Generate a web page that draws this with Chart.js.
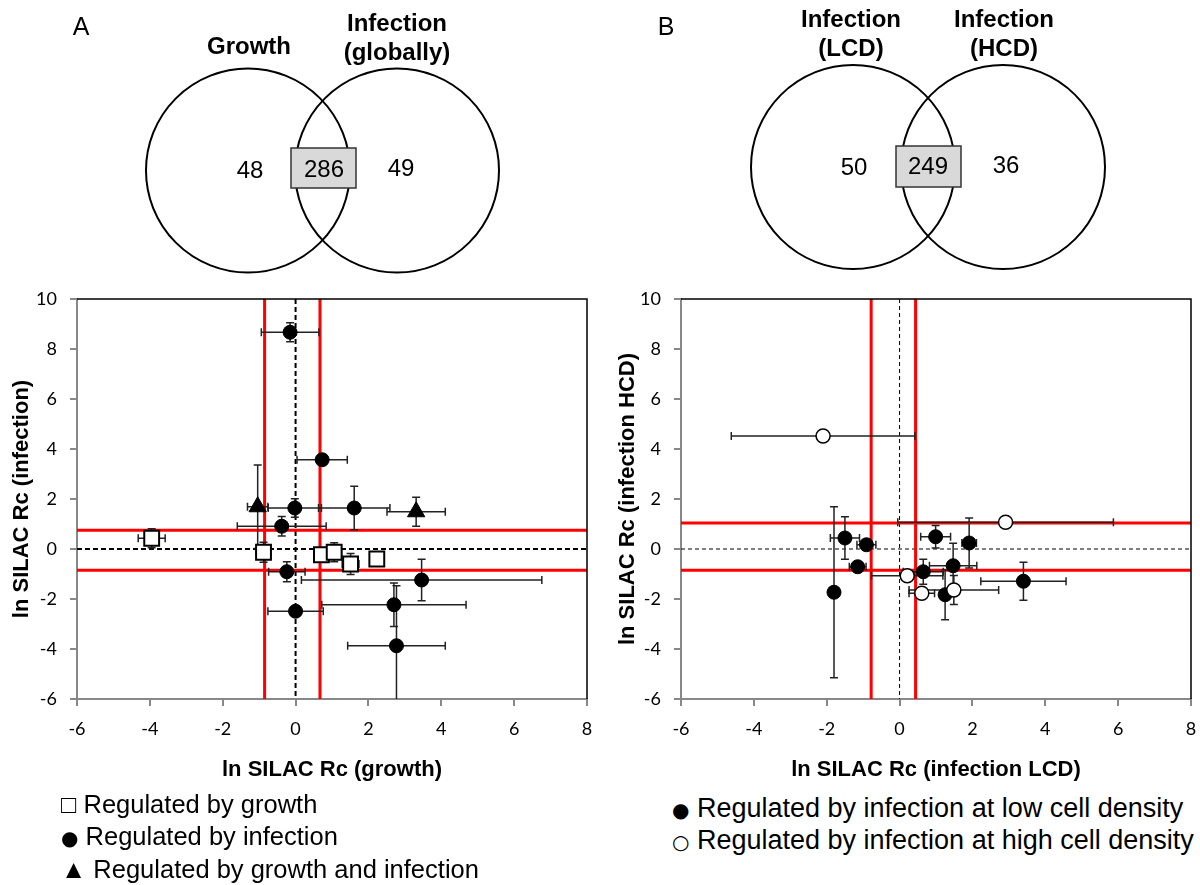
<!DOCTYPE html>
<html>
<head>
<meta charset="utf-8">
<script src="https://cdn.jsdelivr.net/npm/chart.js@4.4.1/dist/chart.umd.min.js"></script>
<style>
  body { margin: 0; background: #fff; }
  #page { position: relative; width: 1200px; height: 885px; overflow: hidden;
          font-family: "Liberation Sans", Arial, sans-serif; color: #000; }
  .abs { position: absolute; white-space: nowrap; }
  .c { transform: translate(-50%, -50%); text-align: center; }
  .panel { font-size: 25px; }
  .vlab { font-weight: bold; font-size: 24px; line-height: 29px; }
  .vnum { font-size: 24px; }
  .dot { font-family: "DejaVu Sans", sans-serif; font-size: 20px; }
  canvas { position: absolute; }
</style>
</head>
<body>
<div id="page">
  <canvas id="venn" width="1200" height="280" style="left:0;top:0"></canvas>
  <canvas id="chartA" width="600" height="510" style="left:0;top:280px"></canvas>
  <canvas id="chartB" width="600" height="510" style="left:600px;top:280px"></canvas>

  <div class="abs c panel" style="left:81px;top:26px">A</div>
  <div class="abs c panel" style="left:666px;top:26px">B</div>

  <div class="abs c vlab" id="vlA0" style="left:249px;top:45px"></div>
  <div class="abs c vlab" id="vlA1" style="left:397px;top:37px"></div>
  <div class="abs c vlab" id="vlB0" style="left:851px;top:33px"></div>
  <div class="abs c vlab" id="vlB1" style="left:1004px;top:33px"></div>

  <div class="abs c vnum" id="vnA0" style="left:250px;top:170px"></div>
  <div class="abs c vnum" id="vnA1" style="left:324px;top:169px"></div>
  <div class="abs c vnum" id="vnA2" style="left:401px;top:168px"></div>
  <div class="abs c vnum" id="vnB0" style="left:854px;top:167px"></div>
  <div class="abs c vnum" id="vnB1" style="left:928px;top:166px"></div>
  <div class="abs c vnum" id="vnB2" style="left:1006px;top:165px"></div>

  <div class="abs" id="legA" style="left:61px;top:789px;line-height:31.5px;font-size:25.5px"></div>
  <div class="abs" id="legB" style="left:672px;top:794px;line-height:29.5px;font-size:27px"></div>
</div>

<script>
// venn counts (only A, overlap, only B)
const vennLabelsA = ["Growth", "Infection<br>(globally)"];
const vennCountsA = [48, 286, 49];
const vennLabelsB = ["Infection<br>(LCD)", "Infection<br>(HCD)"];
const vennCountsB = [50, 249, 36];

// panel A: x = ln SILAC Rc (growth), y = ln SILAC Rc (infection)
const growthX    = [-3.95, -0.88, 0.71, 1.06, 1.51, 2.23];
const growthY    = [0.43, -0.13, -0.23, -0.13, -0.60, -0.40];
const growthXErr = [0.37, 0.20, 0.15, 0.20, 0.23, 0];
const growthYErr = [0.38, 0.40, 0.10, 0.38, 0.42, 0];

const infectX    = [-0.15, 0.73, -0.02, 1.61, -0.38, -0.24, 3.46, 2.70, 0.00, 2.77];
const infectY    = [8.67, 3.57, 1.64, 1.64, 0.91, -0.91, -1.24, -2.23, -2.49, -3.87];
const infectXErr = [0.79, 0.69, 0.73, 0.98, 1.22, 0.50, 3.30, 1.98, 0.76, 1.34];
const infectYErr = [0.38, 0.10, 0.37, 0.87, 0.39, 0.40, 0.83, 0.87, 0.10, 2.40];

const bothX    = [-1.04, 3.31];
const bothY    = [1.69, 1.49];
const bothXErr = [0.28, 0.80];
const bothYErr = [1.67, 0.58];

const cutA_x = [-0.85, 0.67];
const cutA_y = [0.75, -0.85];

// panel B: x = infection LCD, y = infection HCD
const lowX    = [-1.50, -0.91, -1.15, -1.80, 0.99, 1.91, 1.47, 0.65, 1.25, 3.40];
const lowY    = [0.44, 0.17, -0.71, -1.73, 0.49, 0.24, -0.67, -0.91, -1.83, -1.29];
const lowXErr = [0.40, 0.26, 0.23, 0.10, 0.41, 0.20, 0.65, 0.55, 0.10, 1.17];
const lowYErr = [0.85, 0.10, 0.10, 3.42, 0.45, 1.00, 0.90, 0.50, 1.00, 0.76];

const highX    = [-2.10, 2.91, 0.21, 0.61, 1.49];
const highY    = [4.52, 1.07, -1.07, -1.77, -1.64];
const highXErr = [2.52, 2.96, 0.98, 0.35, 1.23];
const highYErr = [0.10, 0.10, 0.10, 0.10, 0.58];

const cutB_x = [-0.78, 0.44];
const cutB_y = [1.04, -0.85];

const xTicksMin = -6, xTicksMax = 8;
const yTicksMin = -6, yTicksMax = 10;

const legendA = [["\u25A1", "Regulated by growth"], ["\u25CF", "Regulated by infection"], ["\u25B2", "Regulated by growth and infection"]];
const legendB = [["\u25CF", "Regulated by infection at low cell density"], ["\u25CB", "Regulated by infection at high cell density"]];

// text bits
vennLabelsA.forEach((t, i) => document.getElementById("vlA" + i).innerHTML = t);
vennLabelsB.forEach((t, i) => document.getElementById("vlB" + i).innerHTML = t);
vennCountsA.forEach((n, i) => document.getElementById("vnA" + i).textContent = n);
vennCountsB.forEach((n, i) => document.getElementById("vnB" + i).textContent = n);
function legendHtml(rows) {
  // round markers come out too small in Liberation Sans, use DejaVu for those
  return rows.map((r) => {
    const sym = (r[0] == "\u25CF" || r[0] == "\u25CB") ? '<span class="dot">' + r[0] + '</span>' : r[0];
    return sym + ' ' + r[1];
  }).join("<br>");
}
document.getElementById("legA").innerHTML = legendHtml(legendA);
document.getElementById("legB").innerHTML = legendHtml(legendB);

// venn shapes
function drawVenn(ctx, c1, c2, r, box) {
  ctx.lineWidth = 2;
  ctx.strokeStyle = "#000";
  [c1, c2].forEach((c) => {
    ctx.beginPath();
    ctx.arc(c[0], c[1], r, 0, Math.PI * 2);
    ctx.stroke();
  });
  ctx.fillStyle = "#d9d9d9";
  ctx.fillRect(box[0], box[1], box[2], box[3]);
  ctx.lineWidth = 1.5;
  ctx.strokeStyle = "#333";
  ctx.strokeRect(box[0], box[1], box[2], box[3]);
}
const vctx = document.getElementById("venn").getContext("2d");
drawVenn(vctx, [248, 170.5], [397, 170.5], 102, [291, 148, 65, 40]);
drawVenn(vctx, [853, 167], [1003, 167], 102, [896, 146, 65, 41]);

function pts(xs, ys) {
  return xs.map((x, i) => ({ x: x, y: ys[i] }));
}

// zero lines, cut-off lines and error bars under the points, frame on top
const extras = {
  id: "extras",
  beforeDatasetsDraw(chart, args, opts) {
    const { ctx, chartArea: a, scales: { x, y } } = chart;
    ctx.save();
    ctx.beginPath();
    ctx.rect(a.left, a.top, a.right - a.left, a.bottom - a.top);
    ctx.clip();

    ctx.strokeStyle = "#000";
    ctx.lineWidth = opts.dashWidth;
    ctx.setLineDash(opts.dash);
    ctx.beginPath();
    ctx.moveTo(x.getPixelForValue(0), a.top);
    ctx.lineTo(x.getPixelForValue(0), a.bottom);
    ctx.moveTo(a.left, y.getPixelForValue(0));
    ctx.lineTo(a.right, y.getPixelForValue(0));
    ctx.stroke();
    ctx.setLineDash([]);

    ctx.strokeStyle = "#ff0000";
    ctx.lineWidth = 3;
    ctx.beginPath();
    opts.cutX.forEach((v) => {
      ctx.moveTo(x.getPixelForValue(v), a.top);
      ctx.lineTo(x.getPixelForValue(v), a.bottom);
    });
    opts.cutY.forEach((v) => {
      ctx.moveTo(a.left, y.getPixelForValue(v));
      ctx.lineTo(a.right, y.getPixelForValue(v));
    });
    ctx.stroke();

    // error bars
    ctx.strokeStyle = "#222";
    ctx.lineWidth = 1.5;
    const cap = 4;
    chart.data.datasets.forEach((ds) => {
      ds.data.forEach((p, i) => {
        const px = x.getPixelForValue(p.x), py = y.getPixelForValue(p.y);
        const ex = ds.errX[i], ey = ds.errY[i];
        ctx.beginPath();
        if (ex > 0) {
          const l = x.getPixelForValue(p.x - ex), r = x.getPixelForValue(p.x + ex);
          ctx.moveTo(l, py); ctx.lineTo(r, py);
          ctx.moveTo(l, py - cap); ctx.lineTo(l, py + cap);
          ctx.moveTo(r, py - cap); ctx.lineTo(r, py + cap);
        }
        if (ey > 0) {
          const t = y.getPixelForValue(p.y + ey), b = y.getPixelForValue(p.y - ey);
          ctx.moveTo(px, t); ctx.lineTo(px, b);
          ctx.moveTo(px - cap, t); ctx.lineTo(px + cap, t);
          ctx.moveTo(px - cap, b); ctx.lineTo(px + cap, b);
        }
        ctx.stroke();
      });
    });
    ctx.restore();
  },
  afterDraw(chart) {
    const { ctx, chartArea: a } = chart;
    ctx.save();
    ctx.strokeStyle = "#000";
    ctx.lineWidth = 1.5;
    ctx.beginPath();
    ctx.moveTo(a.left, a.top);
    ctx.lineTo(a.right, a.top);
    ctx.lineTo(a.right, a.bottom);
    ctx.stroke();
    ctx.restore();
  }
};

function axes(xTitle, yTitle, yWidth, yTitlePad) {
  const tickFont = { family: "Lato", size: 18 };
  const titleFont = { family: "Liberation Sans", size: 22, weight: "bold" };
  const grid = { drawOnChartArea: false, tickLength: 7, color: "#888", lineWidth: 2 };
  const border = { color: "#888", width: 2 };
  return {
    x: {
      type: "linear", min: xTicksMin, max: xTicksMax,
      ticks: { stepSize: 2, font: tickFont, color: "#000", padding: 12 },
      grid: grid, border: border,
      title: { display: true, text: xTitle, font: titleFont, color: "#000", padding: { top: 0, bottom: 7 } },
      afterFit(s) {
        s.height = 91;
        // let layout.padding alone decide the plot box
        s.paddingLeft = 0; s.paddingRight = 0;
      }
    },
    y: {
      type: "linear", min: yTicksMin, max: yTicksMax,
      ticks: { stepSize: 2, font: tickFont, color: "#000", padding: 13 },
      grid: grid, border: border,
      title: { display: true, text: yTitle, font: titleFont, color: "#000", padding: { top: yTitlePad, bottom: 0 } },
      afterFit(s) {
        s.width = yWidth;
        s.paddingTop = 0; s.paddingBottom = 0;
      }
    }
  };
}

const baseOpts = {
  responsive: false,
  animation: false,
  events: [],
  plugins: { legend: { display: false }, tooltip: { enabled: false } }
};

new Chart(document.getElementById("chartA"), {
  type: "scatter",
  data: {
    datasets: [
      { label: "Regulated by growth", data: pts(growthX, growthY), errX: growthXErr, errY: growthYErr,
        pointStyle: "rect", pointRadius: 10.5, backgroundColor: "#fff", borderColor: "#000", borderWidth: 2 },
      { label: "Regulated by infection", data: pts(infectX, infectY), errX: infectXErr, errY: infectYErr,
        pointStyle: "circle", pointRadius: 7, backgroundColor: "#000", borderColor: "#000", borderWidth: 1 },
      { label: "Regulated by growth and infection", data: pts(bothX, bothY), errX: bothXErr, errY: bothYErr,
        pointStyle: "triangle", pointRadius: 10, backgroundColor: "#000", borderColor: "#000", borderWidth: 1 }
    ]
  },
  options: Object.assign({}, baseOpts, {
    layout: { padding: { top: 19, right: 13, left: 0, bottom: 0 } },
    scales: axes("ln SILAC Rc (growth)", "ln SILAC Rc (infection)", 77, 9),
    plugins: Object.assign({}, baseOpts.plugins, {
      extras: { cutX: cutA_x, cutY: cutA_y, dash: [5, 3], dashWidth: 2 }
    })
  }),
  plugins: [extras]
});

new Chart(document.getElementById("chartB"), {
  type: "scatter",
  data: {
    datasets: [
      { label: "Regulated by infection at high cell density", data: pts(highX, highY), errX: highXErr, errY: highYErr,
        pointStyle: "circle", pointRadius: 7, backgroundColor: "#fff", borderColor: "#000", borderWidth: 1.5 },
      { label: "Regulated by infection at low cell density", data: pts(lowX, lowY), errX: lowXErr, errY: lowYErr,
        pointStyle: "circle", pointRadius: 7, backgroundColor: "#000", borderColor: "#000", borderWidth: 1 }
    ]
  },
  options: Object.assign({}, baseOpts, {
    layout: { padding: { top: 19, right: 9, left: 0, bottom: 0 } },
    scales: axes("ln SILAC Rc (infection LCD)", "ln SILAC Rc (infection HCD)", 81, 15),
    plugins: Object.assign({}, baseOpts.plugins, {
      extras: { cutX: cutB_x, cutY: cutB_y, dash: [4, 3], dashWidth: 1 }
    })
  }),
  plugins: [extras]
});
</script>
</body>
</html>
